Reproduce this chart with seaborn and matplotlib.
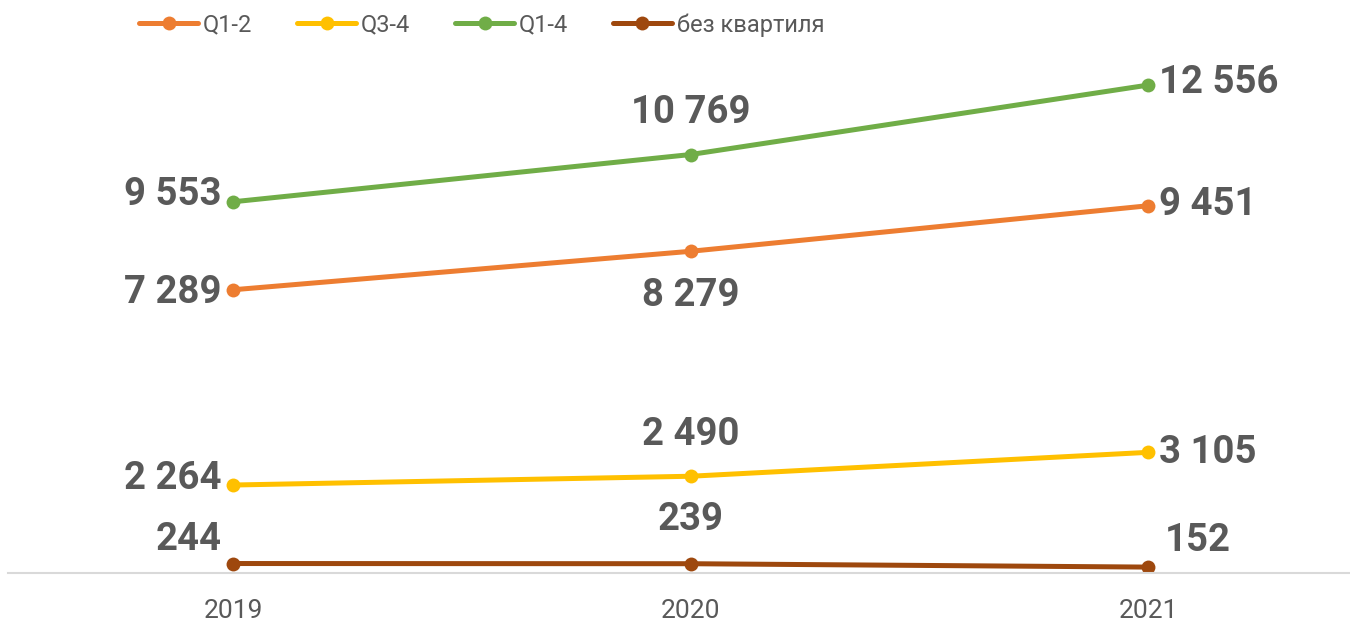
import pandas as pd
import matplotlib
matplotlib.use("Agg")
import matplotlib.pyplot as plt
import seaborn as sns

# Daten
years = ["2019", "2020", "2021"]
series_names = ["Q1-2", "Q3-4", "Q1-4", "без квартиля"]
q1_2 = [7289, 8279, 9451]
q3_4 = [2264, 2490, 3105]
q1_4 = [9553, 10769, 12556]
no_quart = [244, 239, 152]

colors = ["#ED7D31", "#FFC000", "#70AD47", "#9E480E"]

rows = []
for name, vals in zip(series_names, [q1_2, q3_4, q1_4, no_quart]):
    for i, v in enumerate(vals):
        rows.append({"pos": i, "year": years[i], "value": v, "series": name})
df = pd.DataFrame(rows)

sns.set_style("white")
plt.rcParams['font.family'] = ['Roboto', 'DejaVu Sans']

fig = plt.figure(figsize=(13.5, 6.26), dpi=100)
ax = fig.add_axes([8 / 1350, 53 / 626, 1342 / 1350, 544 / 626])

sns.lineplot(data=df, x="pos", y="value", hue="series", hue_order=series_names,
             palette=colors, marker="o", markersize=10, markeredgewidth=0,
             linewidth=3.6, ax=ax)

ax.set_xlim(-0.4918, 2.4415)
ax.set_ylim(0, 14000)
ax.set_xticks(range(len(years)))
ax.set_xticklabels(years, fontsize=19, color="#595959")
ax.tick_params(axis="x", length=0, pad=19)
ax.set_yticks([])
ax.set_xlabel("")
ax.set_ylabel("")
for s in ["top", "right", "left"]:
    ax.spines[s].set_visible(False)
ax.spines["bottom"].set_color("#D9D9D9")
ax.spines["bottom"].set_linewidth(1.5)

def fmt(v):
    return f"{v:,}".replace(",", " ")

# Beschriftungen: (Offset x in Punkten, Offset y in Punkten, ha)
label_pos = {
    "Q1-4": [(-8, 5, "right"), (0, 30, "center"), (8, 2, "left")],
    "Q1-2": [(-8, -2, "right"), (0, -32, "center"), (8, 1, "left")],
    "Q3-4": [(-8, 5, "right"), (0, 30, "center"), (8, 0, "left")],
    "без квартиля": [(-32, 17, "center"), (0, 32, "center"), (36, 19, "center")],
}
for name, vals in zip(series_names, [q1_2, q3_4, q1_4, no_quart]):
    for i, v in enumerate(vals):
        dx, dy, ha = label_pos[name][i]
        ax.annotate(fmt(v), (i, v), xytext=(dx, dy), textcoords="offset points",
                    ha=ha, va="center", fontsize=27.5, fontweight="bold",
                    color="#595959")

handles, labels = ax.get_legend_handles_labels()
ax.legend(handles, labels, loc="center left", bbox_to_anchor=(118 / 1350, 1 - 25 / 626),
          bbox_transform=fig.transFigure, ncol=4, frameon=False, fontsize=17,
          handlelength=2.5, columnspacing=1.9, handletextpad=0.2,
          labelcolor="#595959")

fig.savefig("out.png", dpi=100)
